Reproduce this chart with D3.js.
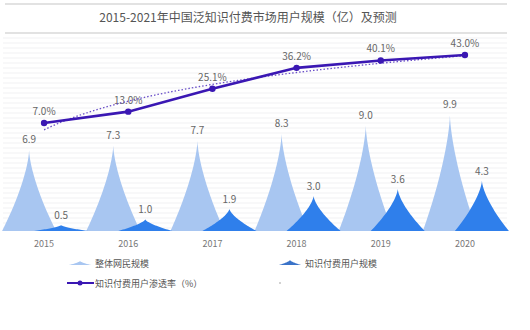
<!DOCTYPE html>
<html>
<head>
<meta charset="utf-8">
<script src="https://cdn.jsdelivr.net/npm/d3@7/dist/d3.min.js"></script>
<style>
  html, body { margin: 0; padding: 0; background: #fff; }
  svg { display: block; font-family: "Noto Sans CJK SC", "Noto Sans", sans-serif; }
</style>
</head>
<body>
<svg id="chart" width="530" height="330"></svg>
<script>
// Data
const years = ["2015", "2016", "2017", "2018", "2019", "2020"];
const netUsers = [6.9, 7.3, 7.7, 8.3, 9.0, 9.9];      // 整体网民规模（亿）
const paidUsers = [0.5, 1.0, 1.9, 3.0, 3.6, 4.3];     // 知识付费用户规模（亿）
const penetration = [7.0, 13.0, 25.1, 36.2, 40.1, 43.0]; // 渗透率（%）
const titleText = "2015-2021年中国泛知识付费市场用户规模（亿）及预测";
const legendNames = ["整体网民规模", "知识付费用户规模", "知识付费用户渗透率（%）"];

const svg = d3.select("#chart");

const x = d3.scaleBand().domain(years).range([2, 507]);
const y = d3.scaleLinear().domain([0, 10]).range([231, 114]);
const y2 = d3.scaleLinear().domain([0, 50]).range([136.2, 41.8]);

const lightColor = "#a8c6f1";
const darkColor = "#2f7feb";
const lineColor = "#3a17b3";

// Title band
svg.append("line").attr("x1", 5).attr("x2", 507).attr("y1", 4).attr("y2", 4)
  .attr("stroke", "#e2e2e2").attr("stroke-width", 2);
svg.append("line").attr("x1", 5).attr("x2", 507).attr("y1", 33).attr("y2", 33)
  .attr("stroke", "#e2e2e2").attr("stroke-width", 2);
svg.append("text").attr("x", 248).attr("y", 21.5).attr("text-anchor", "middle")
  .attr("font-size", 12).attr("fill", "#555").text(titleText);

// Striped background
svg.append("g").selectAll("line").data(d3.range(38, 231, 5)).join("line")
  .attr("x1", 3).attr("x2", 507).attr("y1", d => d).attr("y2", d => d)
  .attr("stroke", "#f1f1f3").attr("stroke-width", 1.2);

// Peak shape: spike with concave sides (half-width shrinks as (1-f)^1.5)
function peak(cx, base, top, hw) {
  const h = base - top;
  const fs = d3.range(0, 1.0001, 0.04);
  const right = fs.map(f => [cx + hw * Math.pow(1 - f, 1.5), base - f * h]);
  const left = fs.slice().reverse().map(f => [cx - hw * Math.pow(1 - f, 1.5), base - f * h]);
  return d3.line()(right.concat(left)) + "Z";
}
const cx = d => x(d) + x.bandwidth() / 2;
const lightOff = -15, darkOff = 17, hw = 27;

svg.append("g").selectAll("path").data(years).join("path")
  .attr("d", (d, i) => peak(cx(d) + lightOff, y(0), y(netUsers[i]), hw))
  .attr("fill", lightColor);
svg.append("g").selectAll("path").data(years).join("path")
  .attr("d", (d, i) => peak(cx(d) + darkOff, y(0), y(paidUsers[i]), hw))
  .attr("fill", darkColor);

// Bar value labels
const lbl = svg.append("g").attr("font-size", 10).attr("fill", "#666").attr("text-anchor", "middle");
lbl.selectAll("text.n").data(years).join("text").attr("class", "n")
  .attr("x", d => cx(d) + lightOff).attr("y", (d, i) => y(netUsers[i]) - 7)
  .text((d, i) => netUsers[i].toFixed(1));
lbl.selectAll("text.p").data(years).join("text").attr("class", "p")
  .attr("x", d => cx(d) + darkOff).attr("y", (d, i) => y(paidUsers[i]) - 6)
  .text((d, i) => paidUsers[i].toFixed(1));

// Logarithmic trendline of penetration
const lx = penetration.map((_, i) => Math.log(i + 1));
const mx = d3.mean(lx), my = d3.mean(penetration);
const b = d3.sum(lx, (v, i) => (v - mx) * (penetration[i] - my)) / d3.sum(lx, v => (v - mx) ** 2);
const a = my - b * mx;
const xi = d3.scaleLinear().domain([1, years.length]).range([cx(years[0]), cx(years[years.length - 1])]);
const trendPts = d3.range(1, years.length + 0.001, 0.05).map(t => [xi(t), y2(a + b * Math.log(t))]);
svg.append("path").attr("d", d3.line()(trendPts))
  .attr("fill", "none").attr("stroke", "#6a4fc8").attr("stroke-width", 1.3)
  .attr("stroke-dasharray", "1.5,2");

// Penetration line
svg.append("path")
  .attr("d", d3.line().x(d => cx(d)).y((d, i) => y2(penetration[i]))(years))
  .attr("fill", "none").attr("stroke", lineColor).attr("stroke-width", 2.6);
svg.append("g").selectAll("circle").data(years).join("circle")
  .attr("cx", d => cx(d)).attr("cy", (d, i) => y2(penetration[i])).attr("r", 3.2)
  .attr("fill", lineColor);
lbl.selectAll("text.r").data(years).join("text").attr("class", "r")
  .attr("x", d => cx(d)).attr("y", (d, i) => y2(penetration[i]) - 8)
  .text((d, i) => penetration[i].toFixed(1) + "%");

// X axis labels
const xAxis = svg.append("g").attr("transform", "translate(0,232)")
  .call(d3.axisBottom(x).tickSize(0).tickPadding(9));
xAxis.select(".domain").remove();
xAxis.selectAll("text").attr("font-size", 9).attr("fill", "#777")
  .attr("font-family", "\"Noto Sans CJK SC\", sans-serif");

// Legend
const lg = svg.append("g").attr("font-size", 9).attr("fill", "#555");
lg.append("path").attr("d", peak(80, 265, 261, 11)).attr("fill", lightColor);
lg.append("text").attr("x", 95).attr("y", 266.5).text(legendNames[0]);
lg.append("path").attr("d", peak(290, 265, 260, 11)).attr("fill", "#3a73c8");
lg.append("text").attr("x", 305).attr("y", 266.5).text(legendNames[1]);
lg.append("line").attr("x1", 67).attr("x2", 94).attr("y1", 283).attr("y2", 283)
  .attr("stroke", lineColor).attr("stroke-width", 2);
lg.append("circle").attr("cx", 80).attr("cy", 283).attr("r", 2.5).attr("fill", lineColor);
lg.append("text").attr("x", 95).attr("y", 286.5).text(legendNames[2]);
lg.append("circle").attr("cx", 280).attr("cy", 283).attr("r", 0.8).attr("fill", "#999");
</script>
</body>
</html>
